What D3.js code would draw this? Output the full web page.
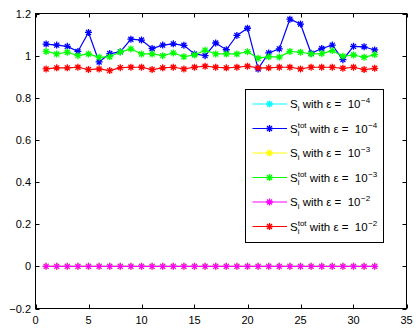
<!DOCTYPE html>
<html>
<head>
<meta charset="utf-8">
<script src="https://cdn.jsdelivr.net/npm/d3@7"></script>
<style>
  body { margin: 0; background: #fff; }
  text { font-family: "Liberation Sans", Arial, sans-serif; fill: #000; }
</style>
</head>
<body>
<div id="chart"></div>
<script>
// indices of the inputs
var idx = d3.range(1, 33);

// first-order indices (all sit on zero)
var siE4 = [0,0,0,0,0,0,0,0,0,0,0,0,0,0,0,0,0,0,0,0,0,0,0,0,0,0,0,0,0,0,0,0];
var siE3 = [0,0,0,0,0,0,0,0,0,0,0,0,0,0,0,0,0,0,0,0,0,0,0,0,0,0,0,0,0,0,0,0];
var siE2 = [0,0,0,0,0,0,0,0,0,0,0,0,0,0,0,0,0,0,0,0,0,0,0,0,0,0,0,0,0,0,0,0];

// total indices
var totE4 = [1.055, 1.05, 1.044, 1.02, 1.11, 0.97, 1.01, 1.018, 1.078, 1.074, 1.034, 1.05,
  1.056, 1.049, 1.008, 1.0, 1.06, 1.028, 1.096, 1.13, 0.937, 1.013, 1.032, 1.173,
  1.15, 1.011, 1.034, 1.05, 0.981, 1.044, 1.042, 1.027];
var totE3 = [1.02, 1.008, 1.016, 1.0, 1.008, 0.992, 0.995, 1.017, 1.032, 1.008, 1.008, 1.0,
  1.013, 0.995, 1.003, 1.026, 1.008, 1.008, 1.008, 1.019, 0.988, 0.995, 0.993, 1.02,
  1.016, 1.008, 1.01, 1.024, 0.997, 1.003, 0.992, 1.005];
var totE2 = [0.937, 0.942, 0.942, 0.945, 0.934, 0.937, 0.929, 0.943, 0.945, 0.945, 0.934, 0.942,
  0.945, 0.937, 0.945, 0.95, 0.945, 0.942, 0.945, 0.95, 0.942, 0.942, 0.945, 0.945,
  0.937, 0.945, 0.945, 0.945, 0.94, 0.945, 0.934, 0.94];

var xTicks = [0, 5, 10, 15, 20, 25, 30, 35];
var yTicks = [-0.2, 0, 0.2, 0.4, 0.6, 0.8, 1, 1.2];

var series = [
  { vals: siE4, color: "#00ffff", tot: false, exp: "\u22124" },
  { vals: totE4, color: "#0000ff", tot: true, exp: "\u22124" },
  { vals: siE3, color: "#ffff00", tot: false, exp: "\u22123" },
  { vals: totE3, color: "#00ff00", tot: true, exp: "\u22123" },
  { vals: siE2, color: "#ff00ff", tot: false, exp: "\u22122" },
  { vals: totE2, color: "#ff0000", tot: true, exp: "\u22122" }
];

var W = 416, H = 329;
var box = { l: 35.5, r: 406.5, t: 13.5, b: 308.5 };

var svg = d3.select("#chart").append("svg")
  .attr("width", W).attr("height", H);

var x = d3.scaleLinear().domain([0, 35]).range([box.l, box.r]);
var y = d3.scaleLinear().domain([-0.2, 1.2]).range([box.b, box.t]);

// axes box
svg.append("rect")
  .attr("x", box.l).attr("y", box.t)
  .attr("width", box.r - box.l).attr("height", box.b - box.t)
  .attr("fill", "#fff").attr("stroke", "#000").attr("stroke-width", 1);

var tl = 4;
// ticks, pointing inwards on all four sides
xTicks.forEach(function (t) {
  var px = Math.round(x(t)) + 0.5;
  svg.append("line").attr("x1", px).attr("x2", px).attr("y1", box.b).attr("y2", box.b - tl).attr("stroke", "#000");
  svg.append("line").attr("x1", px).attr("x2", px).attr("y1", box.t).attr("y2", box.t + tl).attr("stroke", "#000");
  svg.append("text").attr("x", x(t)).attr("y", 324).attr("text-anchor", "middle")
    .style("font-size", "11px").text(t);
});
yTicks.forEach(function (t) {
  var py = Math.round(y(t)) + 0.5;
  svg.append("line").attr("x1", box.l).attr("x2", box.l + tl).attr("y1", py).attr("y2", py).attr("stroke", "#000");
  svg.append("line").attr("x1", box.r).attr("x2", box.r - tl).attr("y1", py).attr("y2", py).attr("stroke", "#000");
  svg.append("text").attr("x", 31).attr("y", y(t) + 4).attr("text-anchor", "end")
    .style("font-size", "11px").text(t < 0 ? "\u2212" + Math.abs(t) : t);
});

var star = "M-3.5,0H3.5M0,-3.5V3.5M-2.5,-2.5L2.5,2.5M-2.5,2.5L2.5,-2.5";
var line = d3.line().x(function (d, i) { return x(idx[i]); }).y(function (d) { return y(d); });

series.forEach(function (s) {
  var g = svg.append("g");
  g.append("path").attr("d", line(s.vals)).attr("fill", "none")
    .attr("stroke", s.color).attr("stroke-width", 1.2);
  g.selectAll("path.m").data(s.vals).enter().append("path")
    .attr("class", "m")
    .attr("transform", function (d, i) { return "translate(" + x(idx[i]) + "," + y(d) + ")"; })
    .attr("d", star).attr("fill", "none")
    .attr("stroke", s.color).attr("stroke-width", 1.3);
});

// legend
var lg = svg.append("g");
lg.append("rect").attr("x", 245.5).attr("y", 89.5).attr("width", 138).attr("height", 153)
  .attr("fill", "#fff").attr("stroke", "#000");

series.forEach(function (s, k) {
  var ly = 104 + k * 24.5;
  lg.append("line").attr("x1", 252.5).attr("x2", 287).attr("y1", ly).attr("y2", ly)
    .attr("stroke", s.color).attr("stroke-width", 1.2);
  lg.append("path").attr("transform", "translate(269.5," + ly + ")").attr("d", star)
    .attr("fill", "none").attr("stroke", s.color).attr("stroke-width", 1.3);

  var tx = 290, by = ly + 4;
  var S = lg.append("text").attr("x", tx).attr("y", by).style("font-size", "11.5px").text("S");
  var sw = S.node().getComputedTextLength();
  var sub = lg.append("text").attr("x", tx + sw).attr("y", by + 3).style("font-size", "8px").text("i");
  var w2 = sub.node().getComputedTextLength();
  if (s.tot) {
    var sup = lg.append("text").attr("x", tx + sw).attr("y", by - 5).style("font-size", "8px").text("tot");
    w2 = Math.max(w2, sup.node().getComputedTextLength());
  }
  var rest = lg.append("text").attr("x", tx + sw + w2).attr("y", by)
    .style("font-size", "11.5px").style("white-space", "pre").text(" with \u03b5 =  10");
  var rw = rest.node().getComputedTextLength();
  lg.append("text").attr("x", tx + sw + w2 + rw + 0.5).attr("y", by - 5)
    .style("font-size", "8px").text(s.exp);
});
</script>
</body>
</html>
